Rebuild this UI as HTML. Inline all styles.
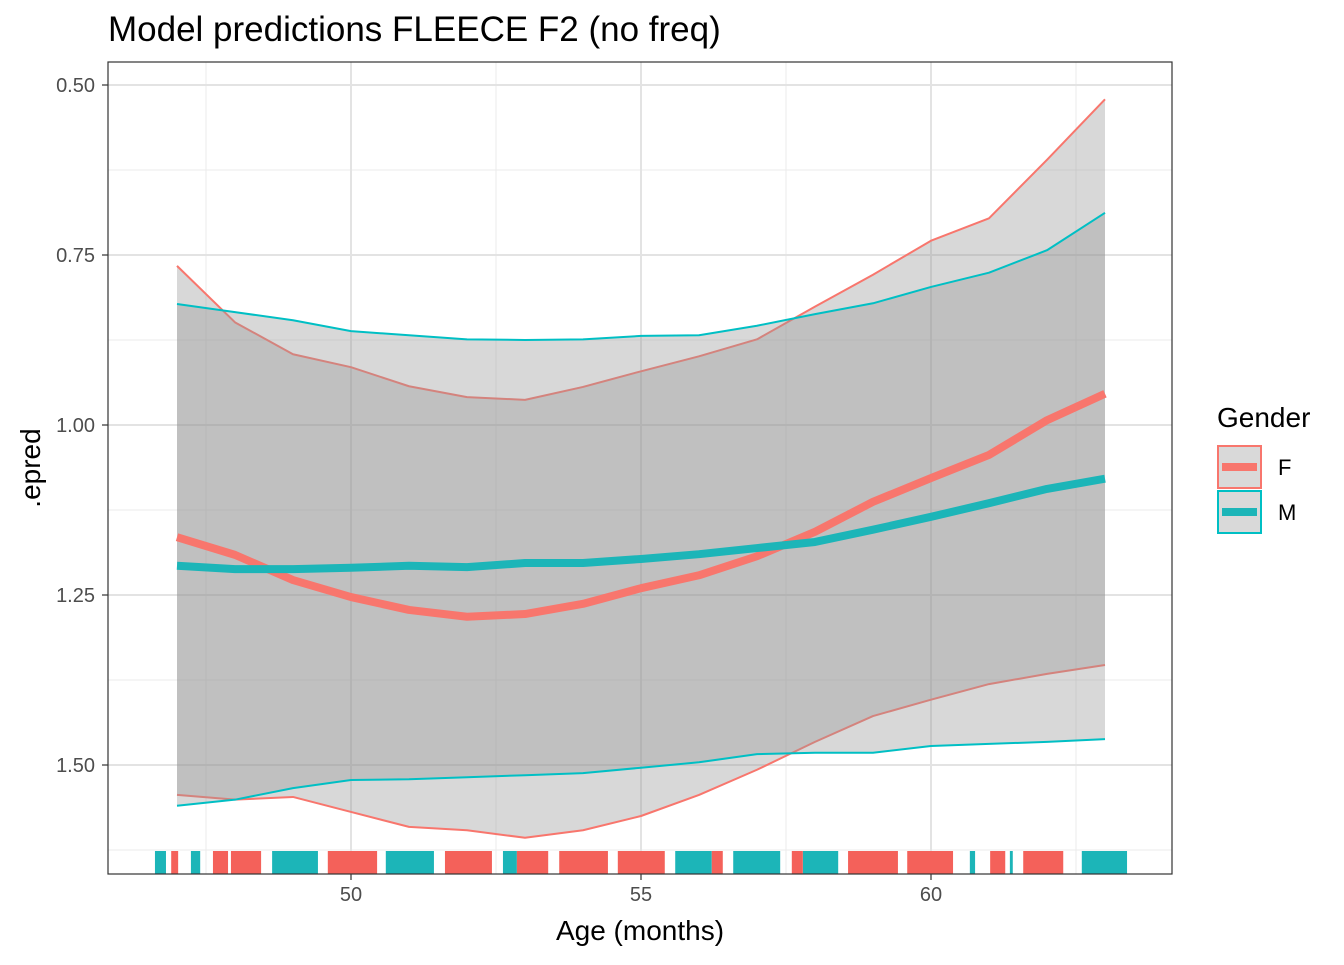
<!DOCTYPE html>
<html><head><meta charset="utf-8"><style>
body{margin:0;background:#fff;font-family:"Liberation Sans",Arial,sans-serif}
</style></head><body>
<svg id="chart" width="1344" height="960" xmlns="http://www.w3.org/2000/svg" font-family="Liberation Sans, Arial, sans-serif">
<text x="108" y="41" font-size="35" fill="#000">Model predictions FLEECE F2 (no freq)</text>
<g id="grid"></g>
<g id="bandsF"></g>
<g id="linesF"></g>
<g id="bandsM"></g>
<g id="linesM"></g>
<g id="lines"></g>
<g id="rug"></g>
<rect x="108" y="62" width="1064" height="812" fill="none" stroke="#333" stroke-width="1.2"/>
<g id="axes"></g>
<text x="640" y="940" font-size="28" text-anchor="middle">Age (months)</text>
<text transform="translate(40,468) rotate(-90)" font-size="28" text-anchor="middle">.epred</text>
<g>
<text x="1217" y="427" font-size="28">Gender</text>
<g>
<rect x="1218" y="446" width="43" height="42" fill="#d9d9d9" stroke="#F8766D" stroke-width="2"/>
<line x1="1222" y1="467" x2="1257" y2="467" stroke="#F8766D" stroke-width="8"/>
<text x="1278" y="475" font-size="22">F</text></g>
<g>
<rect x="1218" y="491" width="43" height="42" fill="#d9d9d9" stroke="#00BFC4" stroke-width="2"/>
<line x1="1222" y1="512" x2="1257" y2="512" stroke="#1CB5B8" stroke-width="8"/>
<text x="1278" y="520" font-size="22">M</text></g>
</g>
</svg>
<script>
const ages=[47,48,49,50,51,52,53,54,55,56,57,58,59,60,61,62,63];
const fMean=[1.165,1.191,1.228,1.253,1.272,1.282,1.278,1.263,1.240,1.221,1.193,1.157,1.113,1.078,1.044,0.993,0.954];
const fUpper=[0.766,0.849,0.896,0.915,0.943,0.959,0.963,0.944,0.921,0.899,0.874,0.826,0.779,0.729,0.696,0.610,0.521];
const fLower=[1.544,1.551,1.547,1.569,1.591,1.596,1.607,1.596,1.575,1.544,1.507,1.466,1.428,1.404,1.381,1.366,1.353];
const mMean=[1.207,1.212,1.212,1.210,1.207,1.209,1.203,1.203,1.197,1.190,1.181,1.172,1.154,1.135,1.115,1.094,1.079];
const mUpper=[0.822,0.834,0.846,0.862,0.868,0.874,0.875,0.874,0.869,0.868,0.854,0.837,0.821,0.797,0.776,0.743,0.688];
const mLower=[1.560,1.551,1.534,1.522,1.521,1.518,1.515,1.512,1.504,1.496,1.484,1.482,1.482,1.472,1.469,1.466,1.462];
const xTicks=[50,55,60];
const yTicks=[0.5,0.75,1.0,1.25,1.5];
const yTickLabels=["0.50","0.75","1.00","1.25","1.50"];
const rugM=[[46.62,46.81],[47.24,47.40],[48.64,49.43],[50.60,51.43],[52.62,52.86],[55.59,56.22],[56.59,57.40],[57.79,58.40],[60.67,60.76],[61.36,61.41],[62.60,63.38]];
const rugF=[[46.90,47.02],[47.62,47.88],[47.93,48.45],[49.60,50.45],[51.62,52.43],[52.86,53.40],[53.59,54.43],[54.60,55.41],[56.22,56.41],[57.60,57.79],[58.57,59.43],[59.59,60.38],[61.02,61.28],[61.59,62.28]];
const X=a=>351+(a-50)*58;
const Y=v=>85+(v-0.5)*680;
const NS="http://www.w3.org/2000/svg";
function mk(tag,attrs,parent){const e=document.createElementNS(NS,tag);for(const k in attrs)e.setAttribute(k,attrs[k]);document.getElementById(parent).appendChild(e);return e;}
for(let v=0.625;v<1.7;v+=0.25){const g=mk('line',{x1:108,x2:1172,y1:Y(v),y2:Y(v),stroke:'#ebebeb','stroke-width':1},'grid');

}
[47.5,52.5,57.5,62.5].forEach(a=>{const g=mk('line',{x1:X(a),x2:X(a),y1:62,y2:874,stroke:'#ebebeb','stroke-width':1},'grid');

});
yTicks.forEach((v,i)=>{const g=mk('line',{x1:108,x2:1172,y1:Y(v),y2:Y(v),stroke:'#e3e3e3','stroke-width':2},'grid');


const t=mk('text',{x:95,y:Y(v)+7,'font-size':20,'text-anchor':'end',fill:'#4d4d4d'},'axes');t.textContent=yTickLabels[i];


const k=mk('line',{x1:102,x2:108,y1:Y(v),y2:Y(v),stroke:'#333','stroke-width':1.2},'axes');

});
xTicks.forEach(a=>{const g=mk('line',{x1:X(a),x2:X(a),y1:62,y2:874,stroke:'#e3e3e3','stroke-width':2},'grid');


const t=mk('text',{x:X(a),y:901,'font-size':20,'text-anchor':'middle',fill:'#4d4d4d'},'axes');t.textContent=a;


const k=mk('line',{x1:X(a),x2:X(a),y1:874,y2:880,stroke:'#333','stroke-width':1.2},'axes');

});
function pts(arr){return ages.map((a,i)=>X(a)+','+Y(arr[i])).join(' ');}
function band(up,lo,name,grp){const p=ages.map((a,i)=>X(a)+','+Y(up[i])).concat(ages.slice().reverse().map((a,j)=>X(a)+','+Y(lo[ages.length-1-j]))).join(' ');
const b=mk('polygon',{points:p,fill:'#999','fill-opacity':0.38},grp);

}
function line(arr,col,w,name,grp){const l=mk('polyline',{points:pts(arr),fill:'none',stroke:col,'stroke-width':w,'stroke-linejoin':'round'},grp);

}
band(fUpper,fLower,'band-f','bandsF');
line(fUpper,'#F8766D',2,'upper-f','linesF');line(fLower,'#F8766D',2,'lower-f','linesF');
band(mUpper,mLower,'band-m','bandsM');
line(mUpper,'#00BFC4',2,'upper-m','linesM');line(mLower,'#00BFC4',2,'lower-m','linesM');
line(fMean,'#F8766D',8,'mean-line-f','lines');line(mMean,'#1CB5B8',8,'mean-line-m','lines');
function rug(arr,col,name){arr.forEach(r=>{const e=mk('rect',{x:X(r[0]),y:851,width:Math.max(2,X(r[1])-X(r[0])),height:23,fill:col},'rug');

});}
rug(rugM,'#1CB5B8','rug-m');rug(rugF,'#F4615A','rug-f');
</script>
</body></html>
